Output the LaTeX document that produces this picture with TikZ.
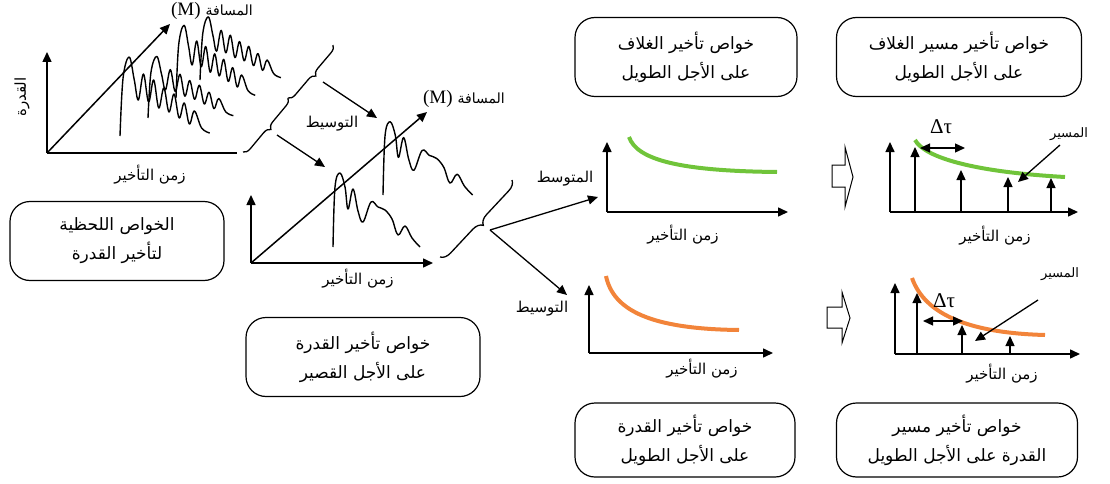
\documentclass[tikz,border=0pt]{standalone}
\usepackage{fontspec}
\setmainfont{Liberation Serif}
\newfontfamily\arabicfont[Script=Arabic]{DejaVu Sans}
\TeXXeTstate=1
\usetikzlibrary{arrows.meta,decorations.pathreplacing}

\definecolor{trendgreen}{RGB}{112,196,58}
\definecolor{trendorange}{RGB}{242,132,58}

\begin{document}
\begin{tikzpicture}[x=1pt,y=-1pt,
    plotaxis/.style={line width=1.5pt,-{Triangle[length=10pt,width=9pt]}},
    thinarrow/.style={line width=1.3pt,-{Triangle[length=10pt,width=9pt]}},
    signal/.style={line width=1.4pt,line join=round},
    trend/.style={line width=4pt},
    curly/.style={decorate,line width=1.3pt,decoration={brace,mirror,amplitude=#1}},
    infobox/.style={draw,line width=1.2pt,rounded corners=20pt,minimum height=79pt,
      align=center,font=\arabicfont\fontsize{17}{29}\selectfont},
    arlabel/.style={font=\arabicfont\fontsize{15}{17}\selectfont}
  ]
    % Fix the page size
    \useasboundingbox (0,0) rectangle (1110,484);

    % Define repeated labels
    \def\delay{\beginR زمن التأخير\endR}
    \def\dist{{\fontsize{19}{19}\selectfont(M)}\hspace{5pt}{\arabicfont\fontsize{14}{16}\selectfont\beginR المسافة\endR}}

    % One echo: base x, base y, x scale, y scale
    \def\echo#1#2#3#4{%
      \draw[signal,shift={(#1,#2)},xscale=#3,yscale=#4] plot[smooth,tension=0.6] coordinates
        {(0,0) (2,-60) (7,-74) (12,-60) (15,-38) (20,-58) (25,-36) (30,-25) (38,-45) (45,-40)
         (52,-37) (59,-28) (65,-12) (72,-21) (79,-9) (87,0)};}
    % Busier echo for the instantaneous panel
    \def\denseecho#1#2#3#4{%
      \draw[signal,shift={(#1,#2)},xscale=#3,yscale=#4] plot[smooth,tension=0.6] coordinates
        {(0,0) (3,-58) (9,-79) (14,-56) (18,-36) (23,-62) (28,-34) (33,-56) (38,-28) (43,-48)
         (48,-24) (53,-42) (58,-18) (63,-33) (68,-12) (73,-25) (80,-8) (88,-3)};}

    % Define echoes: base x / base y / x scale / y scale
    \def\echoesA{120/136/1.02/1.0, 148/118/0.97/0.78, 176/98/0.9/0.92, 200/80/0.92/0.8}
    \def\echoesB{333/247/1.0/1.0, 383/195/1.03/0.99}

    % Left panel
    \coordinate (oA) at (47,153);
    \draw[plotaxis] (oA) -- (47,52);
    \draw[line width=1.5pt] (oA) -- (237,153);
    \draw[plotaxis] (oA) -- (170,24);
    \foreach \bx/\by/\sx/\sy in \echoesA {
        \denseecho{\bx}{\by}{\sx}{\sy}
    }
    \node[arlabel] (delayA) at (150,175) {\delay};
    \node[arlabel,rotate=90] (powerA) at (22,97) {\beginR القدرة\endR};
    \node (distA) at (212,11) {\dist};

    % Middle panel
    \coordinate (oB) at (251,263);
    \draw[plotaxis] (oB) -- (251,195);
    \draw[plotaxis] (oB) -- (433,263);
    \draw[plotaxis] (oB) -- (427,112);
    \foreach \bx/\by/\sx/\sy in \echoesB {
        \echo{\bx}{\by}{\sx}{\sy}
    }
    \node[arlabel] (delayB) at (358,279) {\delay};
    \node (distB) at (464,99) {\dist};

    % Braces and averaging arrows
    \coordinate (brA) at (243,152);
    \coordinate (brB) at (288,98);
    \coordinate (brC) at (333,45);
    \draw[curly=7pt] (brA) -- (brB);
    \draw[curly=7pt] (brB) -- (brC);
    \draw[thinarrow] (323,82) -- (377,118);
    \draw[thinarrow] (277,135) -- (325,167);
    \node[arlabel] (avgA) at (332,124) {\beginR التوسيط\endR};

    \coordinate (brD) at (440,257);
    \coordinate (brE) at (512,180);
    \coordinate (split) at (490,230);
    \draw[curly=10pt] (brD) -- (brE);
    \coordinate (toMean) at (598,197);
    \coordinate (toSpread) at (567,295);
    \draw[thinarrow] (split) -- (toMean);
    \draw[thinarrow] (split) -- (toSpread);

    % Mean profile
    \coordinate (oC) at (607,212);
    \draw[plotaxis] (oC) -- (607,142);
    \draw[plotaxis] (oC) -- (788,212);
    \draw[trend,trendgreen] (629,137) .. controls (637,160) and (680,171) .. (777,172);
    \node[arlabel] (mean) at (565,179) {\beginR المتوسط\endR};
    \node[arlabel] (delayC) at (683,235) {\delay};

    % Spread profile
    \coordinate (oD) at (589,353);
    \draw[plotaxis] (oD) -- (589,285);
    \draw[plotaxis] (oD) -- (773,353);
    \draw[trend,trendorange] (606,276) .. controls (613,310) and (650,329) .. (739,330);
    \node[arlabel] (spread) at (542,309) {\beginR التوسيط\endR};
    \node[arlabel] (delayD) at (702,369) {\delay};

    % Hollow arrows
    \draw[line width=1pt] (832,165) -- (845,165) -- (845,147) -- (853,177) -- (845,207)
      -- (845,187) -- (832,187) -- cycle;
    \draw[line width=1pt] (827,307) -- (842,307) -- (842,292) -- (850,318) -- (842,343)
      -- (842,328) -- (827,328) -- cycle;

    % Path profile (mean)
    \coordinate (oE) at (890,212);
    \draw[plotaxis] (oE) -- (890,142);
    \draw[plotaxis] (oE) -- (1078,212);
    \draw[trend,trendgreen] (915,140) .. controls (925,158) and (975,172) .. (1065,177);
    \foreach \sx/\sy in {915/147, 961/170, 1008/177, 1051/178} {
        \draw[thinarrow] (\sx,212) -- (\sx,\sy);
    }
    \draw[line width=1.3pt,{Triangle[length=10pt,width=9pt]}-{Triangle[length=10pt,width=9pt]}] (920,148) -- (965,148);
    \node[font=\fontsize{21}{21}\selectfont] (tauE) at (941,127) {Δτ};
    \node[arlabel,font=\arabicfont\fontsize{13}{15}\selectfont] (pathE) at (1069,134) {\beginR المسير\endR};
    \draw[thinarrow] (1060,145) -- (1018,182);
    \node[arlabel] (delayE) at (995,236) {\delay};

    % Path profile (spread)
    \coordinate (oF) at (895,354);
    \draw[plotaxis] (oF) -- (895,283);
    \draw[plotaxis] (oF) -- (1080,354);
    \draw[trend,trendorange] (912,278) .. controls (925,315) and (970,333) .. (1045,335);
    \foreach \sx/\sy in {917/293, 962/325, 1010/336} {
        \draw[thinarrow] (\sx,354) -- (\sx,\sy);
    }
    \draw[line width=1.3pt,{Triangle[length=10pt,width=9pt]}-{Triangle[length=10pt,width=9pt]}] (923,321) -- (963,321);
    \node[font=\fontsize{21}{21}\selectfont] (tauF) at (944,301) {Δτ};
    \node[arlabel,font=\arabicfont\fontsize{13}{15}\selectfont] (pathF) at (1060,274) {\beginR المسير\endR};
    \draw[thinarrow] (1038,300) -- (975,341);
    \node[arlabel] (delayF) at (1002,374) {\delay};

    % Draw caption boxes
    \node[infobox,minimum width=214pt] (boxA) at (117,241)
      {\beginR الخواص اللحظية\endR\\\beginR لتأخير القدرة\endR};
    \node[infobox,minimum width=234pt] (boxB) at (363,357)
      {\beginR خواص تأخير القدرة\endR\\\beginR على الأجل القصير\endR};
    \node[infobox,minimum width=222pt] (boxC) at (686,57)
      {\beginR خواص تأخير الغلاف\endR\\\beginR على الأجل الطويل\endR};
    \node[infobox,minimum width=245pt] (boxD) at (959,57)
      {\beginR خواص تأخير مسير الغلاف\endR\\\beginR على الأجل الطويل\endR};
    \node[infobox,minimum width=220pt,minimum height=74pt] (boxE) at (685,440)
      {\beginR خواص تأخير القدرة\endR\\\beginR على الأجل الطويل\endR};
    \node[infobox,minimum width=241pt,minimum height=74pt] (boxF) at (957,440)
      {\beginR خواص تأخير مسير\endR\\\beginR القدرة على الأجل الطويل\endR};

\end{tikzpicture}
\end{document}
